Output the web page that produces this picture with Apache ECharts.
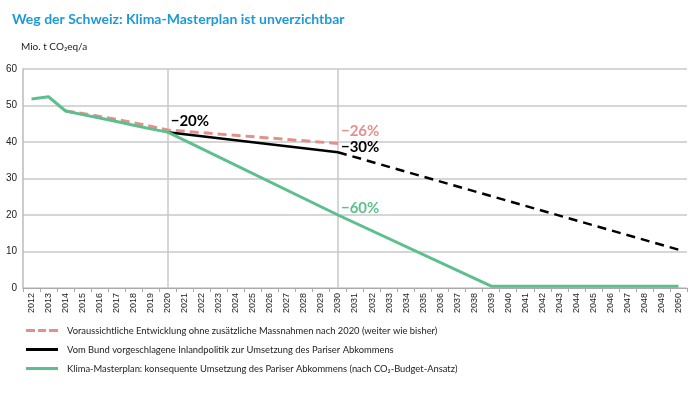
<!DOCTYPE html>
<html>
<head>
<meta charset="utf-8">
<script src="https://cdn.jsdelivr.net/npm/echarts@6/dist/echarts.min.js"></script>
<style>
  html, body { margin: 0; padding: 0; background: #fff; }
  #chart { width: 690px; height: 399px; }
</style>
</head>
<body>
<div id="chart"></div>
<script>
// Jahre (Kategorien)
const jahre = ['2012','2013','2014','2015','2016','2017','2018','2019','2020','2021',
  '2022','2023','2024','2025','2026','2027','2028','2029','2030','2031','2032','2033',
  '2034','2035','2036','2037','2038','2039','2040','2041','2042','2043','2044','2045',
  '2046','2047','2048','2049','2050'];

// Mio. t CO2eq/a, gerade Abschnitte werden verbunden (connectNulls)
const weiterWieBisher = [null, null, 48.5, 47.8, 47.0, 46.2, 45.3, 44.3, 43.3,
  null, null, null, null, null, null, null, null, null, 39.6,
  null, null, null, null, null, null, null, null, null, null,
  null, null, null, null, null, null, null, null, null, null];
const bundSolid = [null, null, null, null, null, null, null, null, 42.7,
  null, null, null, null, null, null, null, null, null, 37.2,
  null, null, null, null, null, null, null, null, null, null,
  null, null, null, null, null, null, null, null, null, null];
const bundDashed = [null, null, null, null, null, null, null, null, null,
  null, null, null, null, null, null, null, null, null, 37.2,
  null, null, null, null, null, null, null, null, null, null,
  null, null, null, null, null, null, null, null, null, 10.5];
const masterplan = [51.8, 52.4, 48.5, 47.5, 46.6, 45.6, 44.6, 43.6, 42.7,
  null, null, null, null, null, null, null, null, null, 20.0,
  null, null, null, null, null, null, null, null, 0.5,
  null, null, null, null, null, null, null, null, null, null, 0.5];

const namen = [
  'Voraussichtliche Entwicklung ohne zusätzliche Massnahmen nach 2020 (weiter wie bisher)',
  'Vom Bund vorgeschlagene Inlandpolitik zur Umsetzung des Pariser Abkommens',
  'Klima-Masterplan: konsequente Umsetzung des Pariser Abkommens (nach CO₂-Budget-Ansatz)'
];

const farbePink = '#e3908b';
const farbeGruen = '#5cbf8c';
const farbeGrid = '#c9c9c9';

function marke(jahr, wert, text, farbe, dy) {
  return {
    coord: [jahr, wert],
    symbol: 'circle',
    symbolSize: 0,
    label: {
      show: true,
      formatter: text,
      position: 'right',
      distance: 3,
      offset: [0, dy],
      color: farbe,
      fontFamily: 'Lato',
      fontWeight: 'bold',
      fontSize: 15
    }
  };
}

const chart = echarts.init(document.getElementById('chart'));

chart.setOption({
  animation: false,
  title: {
    text: 'Weg der Schweiz: Klima-Masterplan ist unverzichtbar',
    left: 7,
    top: 7,
    textStyle: { color: '#1e9ad6', fontFamily: 'Lato', fontWeight: 'bold', fontSize: 14 }
  },
  grid: { left: 23, right: 3, top: 69, bottom: 111, containLabel: false },
  legend: {
    orient: 'vertical',
    left: 21,
    top: 319,
    itemWidth: 32,
    itemHeight: 3,
    itemGap: 6,
    data: [
      { name: namen[0], icon: 'path://M0,0h9v3h-9z M12,0h8v3h-8z M23,0h9v3h-9z' },
      { name: namen[1], icon: 'rect' },
      { name: namen[2], icon: 'rect' }
    ],
    textStyle: { color: '#222', fontFamily: 'Lato', fontSize: 9.4, padding: [0, 0, 0, 4], lineHeight: 13 }
  },
  xAxis: {
    type: 'category',
    data: jahre,
    boundaryGap: true,
    axisLine: { lineStyle: { color: '#aaa', width: 1 } },
    axisTick: { show: true, length: 4, interval: 0, lineStyle: { color: '#aaa' } },
    axisLabel: { interval: 0, rotate: 90, fontSize: 9, color: '#222', fontFamily: 'Liberation Sans', margin: 5 },
    splitLine: { show: false }
  },
  yAxis: {
    type: 'value',
    min: 0,
    max: 60,
    interval: 10,
    name: 'Mio. t CO₂eq/a',
    nameLocation: 'end',
    nameGap: 17,
    nameTextStyle: { align: 'left', color: '#222', fontFamily: 'Lato', fontSize: 10, padding: [0, 0, 0, -2] },
    axisLine: { show: true, lineStyle: { color: '#bbb', width: 1.5 } },
    axisTick: { show: false },
    axisLabel: { fontSize: 10, color: '#222', fontFamily: 'Liberation Sans', margin: 6 },
    splitLine: { lineStyle: { color: farbeGrid, width: 1.5 } }
  },
  series: [
    {
      name: namen[0],
      type: 'line',
      data: weiterWieBisher,
      connectNulls: true,
      symbol: 'none',
      color: farbePink,
      lineStyle: { color: farbePink, width: 3, type: [9, 5] },
      markLine: {
        silent: true,
        symbol: 'none',
        z: 1,
        label: { show: false },
        lineStyle: { color: farbeGrid, width: 1.5, type: 'solid' },
        data: [{ xAxis: '2020' }, { xAxis: '2030' }]
      },
      markPoint: { data: [marke('2030', weiterWieBisher[18], '−26%', farbePink, -12)] }
    },
    {
      name: namen[1],
      type: 'line',
      data: bundSolid,
      connectNulls: true,
      symbol: 'none',
      color: '#000',
      lineStyle: { color: '#000', width: 2.5 },
      markPoint: {
        data: [
          marke('2020', bundSolid[8], '−20%', '#000', -11),
          marke('2030', bundSolid[18], '−30%', '#000', -5)
        ]
      }
    },
    {
      name: namen[1],
      type: 'line',
      data: bundDashed,
      connectNulls: true,
      symbol: 'none',
      color: '#000',
      lineStyle: { color: '#000', width: 2.5, type: [9, 6] }
    },
    {
      name: namen[2],
      type: 'line',
      data: masterplan,
      connectNulls: true,
      symbol: 'none',
      color: farbeGruen,
      lineStyle: { color: farbeGruen, width: 3 },
      markPoint: { data: [marke('2030', masterplan[18], '−60%', farbeGruen, -7)] }
    }
  ]
});
</script>
</body>
</html>
